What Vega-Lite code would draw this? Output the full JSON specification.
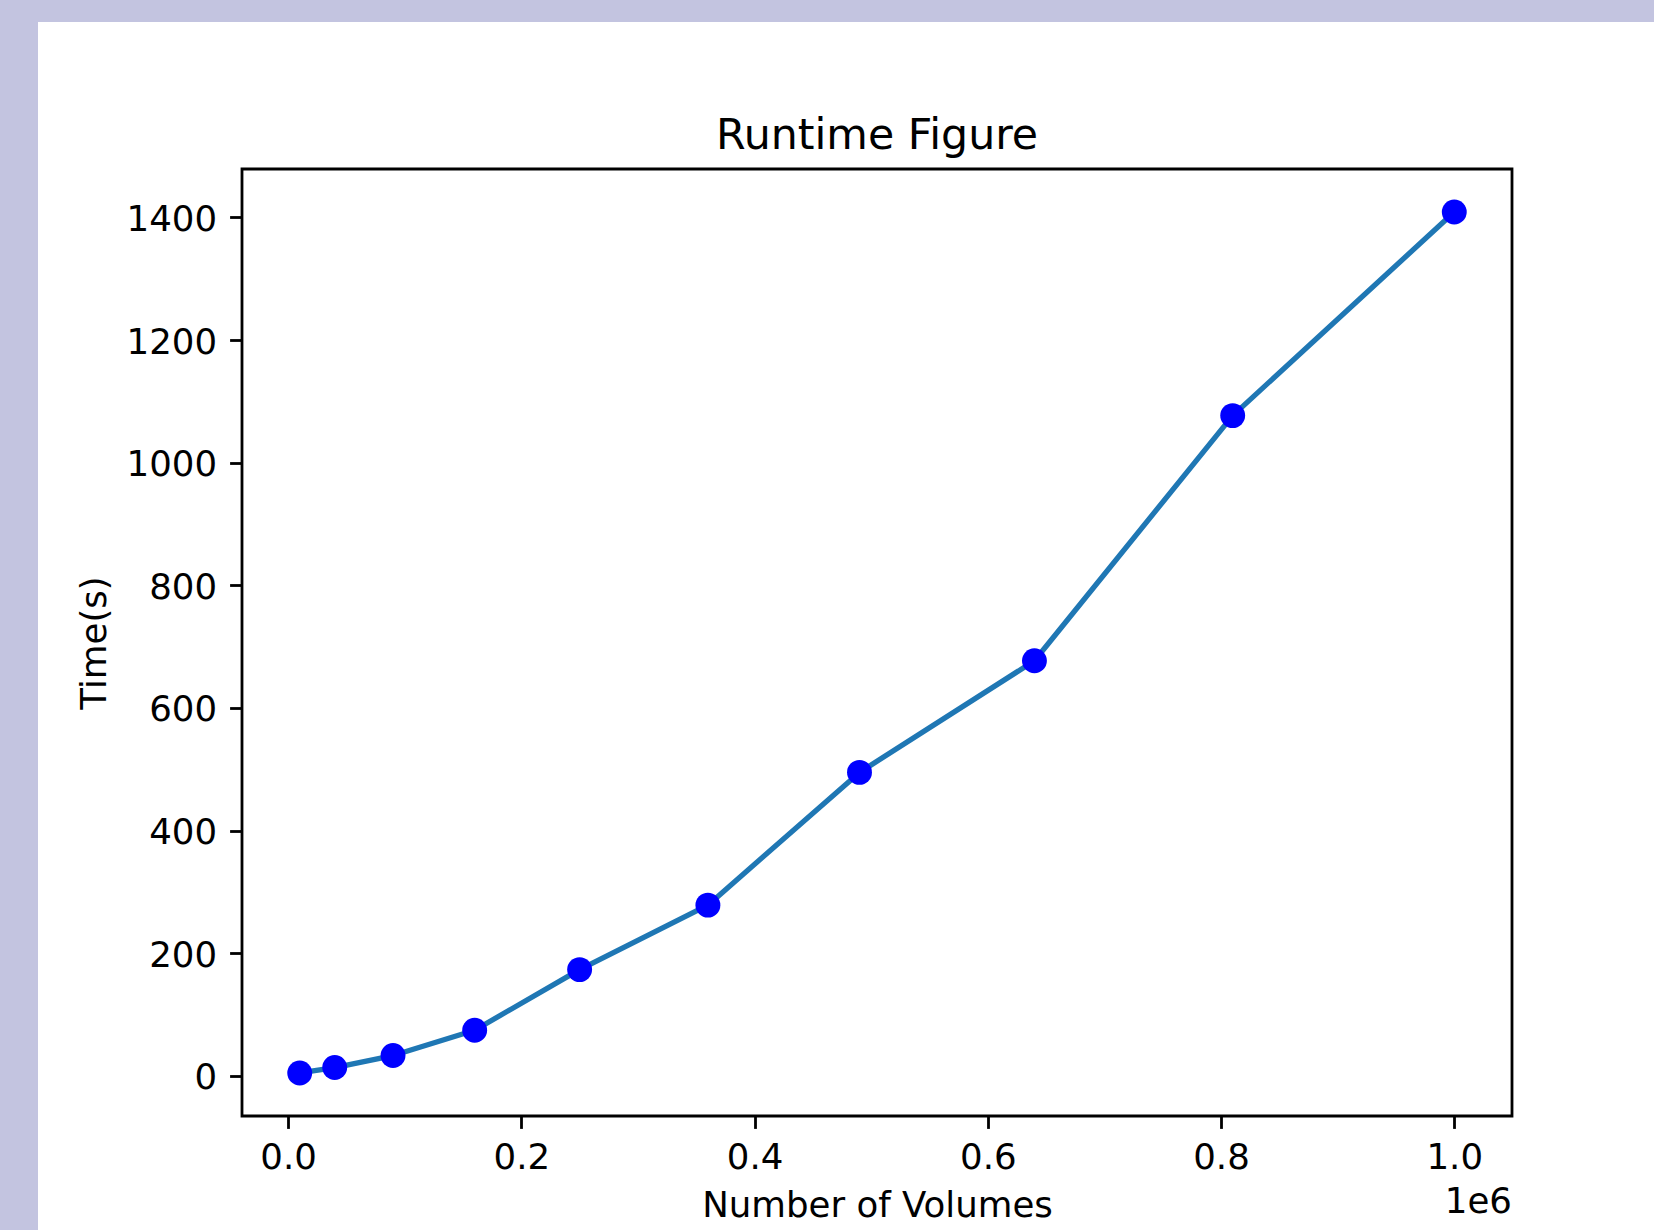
{
  "$schema": "https://vega.github.io/schema/vega-lite/v6.json",
  "autosize": {"type": "none"},
  "width": 1270,
  "height": 947,
  "padding": {"left": 242, "top": 169, "right": 142, "bottom": 114},
  "background": "white",
  "title": {
    "text": "Runtime Figure",
    "font": "DejaVu Sans",
    "fontSize": 42.7,
    "fontWeight": "normal",
    "color": "black",
    "baseline": "alphabetic",
    "offset": -192,
    "anchor": "middle",
    "frame": "group"
  },
  "config": {
    "view": {"stroke": "black", "strokeWidth": 2.8, "fill": "white"},
    "axis": {
      "domain": false,
      "tickColor": "black",
      "tickWidth": 2.8,
      "tickSize": 12.4,
      "gridColor": "#b0b0b0",
      "gridWidth": 2.8,
      "labelFont": "DejaVu Sans",
      "labelFontSize": 35.6,
      "labelColor": "black",
      "titleFont": "DejaVu Sans",
      "titleFontSize": 35.6,
      "titleColor": "black",
      "titleFontWeight": "normal"
    }
  },
  "data": {
    "values": [
      {"volumes": 10000, "time": 4.9},
      {"volumes": 40000, "time": 13.7},
      {"volumes": 90000, "time": 33.3},
      {"volumes": 160000, "time": 74.6},
      {"volumes": 250000, "time": 173.4},
      {"volumes": 360000, "time": 278.5},
      {"volumes": 490000, "time": 495.0},
      {"volumes": 640000, "time": 677.0},
      {"volumes": 810000, "time": 1076.8},
      {"volumes": 1000000, "time": 1408.7}
    ]
  },
  "layer": [
    {
      "data": {"values": [{}]},
      "mark": {"type": "rect", "color": "#c3c4e0", "clip": false},
      "encoding": {
        "x": {"datum": -247010, "type": "quantitative", "scale": {"domain": [-39500, 1049500], "nice": false, "zero": false}},
        "x2": {"datum": -214426},
        "y": {"datum": 1754.46, "type": "quantitative", "scale": {"domain": [-65.29, 1478.89], "nice": false, "zero": false}},
        "y2": {"datum": -251.18}
      }
    },
    {
      "data": {"values": [{}]},
      "mark": {"type": "rect", "color": "#c3c4e0", "clip": false},
      "encoding": {
        "x": {"datum": -247010, "type": "quantitative"},
        "x2": {"datum": 1171262},
        "y": {"datum": 1754.46, "type": "quantitative"},
        "y2": {"datum": 1718.6}
      }
    },
    {
      "mark": {"type": "line", "color": "#1f77b4", "strokeWidth": 5.3, "strokeJoin": "round"},
      "encoding": {
        "x": {
          "field": "volumes",
          "type": "quantitative",
          "scale": {"domain": [-39500, 1049500], "nice": false, "zero": false},
          "axis": {
            "title": "Number of Volumes",
            "values": [0, 200000, 400000, 600000, 800000, 1000000],
            "labelExpr": "format(datum.value / 1000000, '.1f')",
            "labelPadding": 12,
            "titlePadding": 12
          }
        },
        "y": {
          "field": "time",
          "type": "quantitative",
          "scale": {"domain": [-65.29, 1478.89], "nice": false, "zero": false},
          "axis": {
            "title": "Time(s)",
            "values": [0, 200, 400, 600, 800, 1000, 1200, 1400],
            "format": "d",
            "labelPadding": 13,
            "labelOffset": 2,
            "titlePadding": 14
          }
        }
      }
    },
    {
      "mark": {"type": "point", "shape": "circle", "filled": true, "color": "#0000ff", "opacity": 1, "size": 620},
      "encoding": {
        "x": {"field": "volumes", "type": "quantitative"},
        "y": {"field": "time", "type": "quantitative"}
      }
    },
    {
      "data": {"values": [{}]},
      "mark": {"type": "text", "text": "1e6", "align": "right", "baseline": "alphabetic", "font": "DejaVu Sans", "fontSize": 35.6, "color": "black", "clip": false},
      "encoding": {
        "x": {"datum": 1049500, "type": "quantitative"},
        "y": {"datum": -224, "type": "quantitative"}
      }
    }
  ]
}
